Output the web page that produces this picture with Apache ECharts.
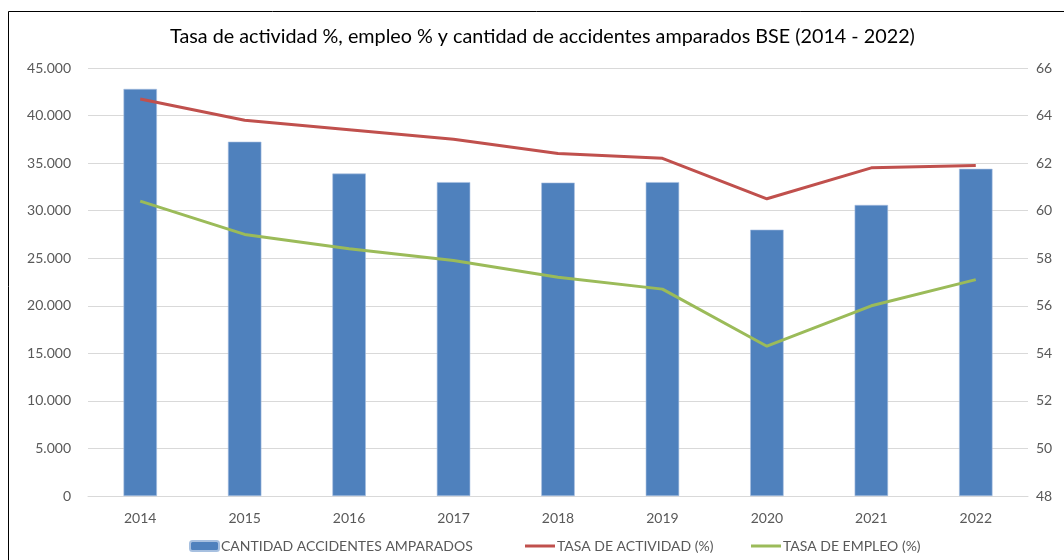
<!DOCTYPE html>
<html>
<head>
<meta charset="utf-8">
<script src="https://cdn.jsdelivr.net/npm/echarts@6/dist/echarts.min.js"></script>
<style>
  html, body { margin: 0; padding: 0; background: #fff; }
  #chart { width: 1064px; height: 560px; }
</style>
</head>
<body>
<div id="chart"></div>
<script>
// datos
const years = ['2014', '2015', '2016', '2017', '2018', '2019', '2020', '2021', '2022'];
const accidentes = [42800, 37250, 33900, 33000, 32950, 33000, 28000, 30600, 34400];
const tasaActividad = [64.7, 63.8, 63.4, 63.0, 62.4, 62.2, 60.5, 61.8, 61.9];
const tasaEmpleo = [60.4, 59.0, 58.4, 57.9, 57.2, 56.7, 54.3, 56.0, 57.1];

const FONT = 'Lato';
const GRIS = '#595959';

// formato con punto de miles (45.000)
function miles(v) {
    return String(v).replace(/\B(?=(\d{3})+(?!\d))/g, '.');
}

var myChart = echarts.init(document.getElementById('chart'));

var legendText = { fontFamily: FONT, fontSize: 14, color: GRIS, padding: [0, 0, 0, -3] };

var option = {
    backgroundColor: '#fff',
    animation: false,
    title: {
        text: 'Tasa de actividad %, empleo % y cantidad de accidentes amparados BSE (2014 - 2022)',
        left: 170,
        top: 27,
        padding: 0,
        textStyle: { fontFamily: FONT, fontSize: 19.75, fontWeight: 'normal', color: '#000' }
    },
    legend: [
        {
            data: ['CANTIDAD ACCIDENTES AMPARADOS'],
            left: 189, top: 539, padding: 0,
            itemWidth: 29, itemHeight: 10,
            textStyle: legendText
        },
        {
            data: [{ name: 'TASA DE ACTIVIDAD (%)', icon: 'rect' }],
            left: 525, top: 539, padding: 0,
            itemWidth: 30, itemHeight: 3,
            textStyle: legendText
        },
        {
            data: [{ name: 'TASA DE EMPLEO (%)', icon: 'rect' }],
            left: 751, top: 539, padding: 0,
            itemWidth: 30, itemHeight: 3,
            textStyle: legendText
        }
    ],
    grid: { left: 88, right: 36, top: 68, bottom: 64 },
    xAxis: {
        type: 'category',
        data: years,
        axisTick: { show: false },
        axisLine: { lineStyle: { color: '#d9d9d9', width: 1 } },
        axisLabel: { color: GRIS, fontFamily: FONT, fontSize: 14, margin: 15 }
    },
    yAxis: [
        {
            type: 'value',
            min: 0, max: 45000, interval: 5000,
            axisLine: { show: false },
            axisTick: { show: false },
            splitLine: { lineStyle: { color: '#d9d9d9', width: 1 } },
            axisLabel: { color: GRIS, fontFamily: FONT, fontSize: 14, margin: 17, formatter: miles }
        },
        {
            type: 'value',
            min: 48, max: 66, interval: 2,
            axisLine: { show: false },
            axisTick: { show: false },
            splitLine: { show: false },
            axisLabel: { color: GRIS, fontFamily: FONT, fontSize: 14, margin: 8 }
        }
    ],
    series: [
        {
            name: 'CANTIDAD ACCIDENTES AMPARADOS',
            type: 'bar',
            data: accidentes,
            barWidth: '32%',
            itemStyle: { color: '#4f81bd', borderColor: '#a7c0e0', borderWidth: 0.6 }
        },
        {
            name: 'TASA DE ACTIVIDAD (%)',
            type: 'line',
            yAxisIndex: 1,
            data: tasaActividad,
            symbol: 'none',
            lineStyle: { color: '#c0504d', width: 3 },
            itemStyle: { color: '#c0504d' }
        },
        {
            name: 'TASA DE EMPLEO (%)',
            type: 'line',
            yAxisIndex: 1,
            data: tasaEmpleo,
            symbol: 'none',
            lineStyle: { color: '#9bbb59', width: 3 },
            itemStyle: { color: '#9bbb59' }
        }
    ],
    // borde del área del gráfico (recortado a la derecha y abajo)
    graphic: [
        {
            type: 'rect',
            shape: { x: 8.5, y: 11.5, width: 1100, height: 600 },
            style: { fill: null, stroke: '#000', lineWidth: 1 },
            silent: true
        }
    ]
};

myChart.setOption(option);
</script>
</body>
</html>
